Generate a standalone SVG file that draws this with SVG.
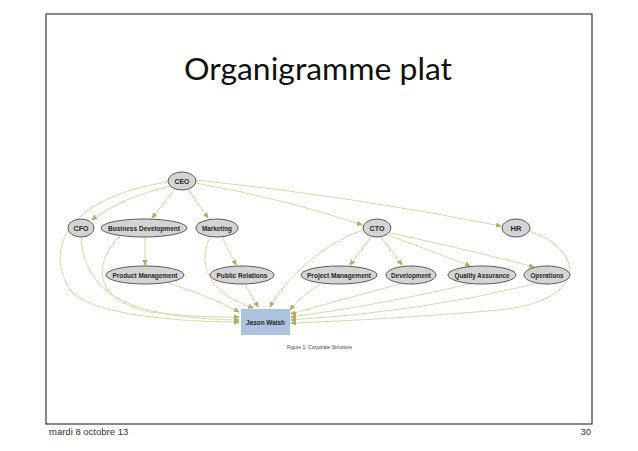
<svg xmlns="http://www.w3.org/2000/svg" width="638" height="451" viewBox="0 0 638 451">
<defs>
<marker id="ah" markerWidth="6" markerHeight="5" refX="5" refY="2.5" orient="auto" markerUnits="userSpaceOnUse">
<path d="M0,0 L6,2.5 L0,5 Z" fill="#b3ab68"/>
</marker>
<style>
.e{fill:none;stroke:#d6d2a6;stroke-width:0.9;marker-end:url(#ah)}
.n{fill:#d4d4d4;stroke:#4a4a4a;stroke-width:0.9}
.t{font-family:"Liberation Sans",Arial,sans-serif;font-size:7.5px;font-weight:bold;fill:#262626;text-anchor:middle}
</style>
</defs>
<rect width="638" height="451" fill="#ffffff"/>
<rect x="46" y="14" width="546" height="410" fill="none" stroke="#3a3a3a" stroke-width="1.2"/>
<text x="318" y="80" font-family="Lato,'Open Sans',sans-serif" font-size="30" text-anchor="middle" fill="#111" textLength="268" lengthAdjust="spacingAndGlyphs">Organigramme plat</text>
<g id="connectors">
<path class="e" d="M170,186 Q120,198 92,220"/>
<path class="e" d="M175,189 L152,218"/>
<path class="e" d="M188,189 L208,218"/>
<path class="e" d="M196,183 Q290,200 362,225"/>
<path class="e" d="M196,180 Q350,196 501,226"/>
<path class="e" d="M371,237 L350,265"/>
<path class="e" d="M381,237 L402,265"/>
<path class="e" d="M388,235 Q430,250 470,266"/>
<path class="e" d="M390,233 Q470,250 534,267"/>
<path class="e" d="M145,237 L145,265"/>
<path class="e" d="M222,237 L236,265"/>
<path class="e" d="M168,182 C80,195 40,240 70,290 C90,315 180,322 239,322"/>
<path class="e" d="M81,237 C85,290 120,318 239,320"/>
<path class="e" d="M120,236 C95,260 90,300 150,312 Q200,318 239,317"/>
<path class="e" d="M168,283 Q210,296 239,312"/>
<path class="e" d="M210,237 C195,270 215,295 253,308"/>
<path class="e" d="M245,284 L258,307"/>
<path class="e" d="M363,230 C320,245 285,280 270,307"/>
<path class="e" d="M320,284 Q300,297 290,310"/>
<path class="e" d="M400,284 Q340,300 291,314"/>
<path class="e" d="M470,284 Q380,305 291,317"/>
<path class="e" d="M535,284 Q420,312 291,320"/>
<path class="e" d="M529,231 C585,250 590,300 500,310 Q380,320 291,323"/>
</g>
<g id="ceo"><ellipse class="n" cx="182" cy="181" rx="14" ry="9"/><text class="t" x="182" y="183.7" textLength="15" lengthAdjust="spacingAndGlyphs">CEO</text></g>
<g id="cfo"><ellipse class="n" cx="81" cy="228" rx="13" ry="9"/><text class="t" x="81" y="230.7" textLength="15" lengthAdjust="spacingAndGlyphs">CFO</text></g>
<g id="bizdev"><ellipse class="n" cx="144" cy="228" rx="43" ry="9"/><text class="t" x="144" y="230.7" textLength="72" lengthAdjust="spacingAndGlyphs">Business Development</text></g>
<g id="marketing"><ellipse class="n" cx="217" cy="228" rx="21" ry="9"/><text class="t" x="217" y="230.7" textLength="30" lengthAdjust="spacingAndGlyphs">Marketing</text></g>
<g id="cto"><ellipse class="n" cx="377" cy="228" rx="14" ry="9"/><text class="t" x="377" y="230.7" textLength="15" lengthAdjust="spacingAndGlyphs">CTO</text></g>
<g id="hr"><ellipse class="n" cx="516" cy="228" rx="14" ry="9"/><text class="t" x="516" y="230.7" textLength="11" lengthAdjust="spacingAndGlyphs">HR</text></g>
<g id="prodmgmt"><ellipse class="n" cx="145" cy="275" rx="39" ry="9"/><text class="t" x="145" y="277.7" textLength="65" lengthAdjust="spacingAndGlyphs">Product Management</text></g>
<g id="pubrel"><ellipse class="n" cx="242" cy="275" rx="32" ry="9"/><text class="t" x="242" y="277.7" textLength="51" lengthAdjust="spacingAndGlyphs">Public Relations</text></g>
<g id="projmgmt"><ellipse class="n" cx="339" cy="275" rx="38" ry="9"/><text class="t" x="339" y="277.7" textLength="64" lengthAdjust="spacingAndGlyphs">Project Management</text></g>
<g id="dev"><ellipse class="n" cx="411" cy="275" rx="25" ry="9"/><text class="t" x="411" y="277.7" textLength="40" lengthAdjust="spacingAndGlyphs">Development</text></g>
<g id="qa"><ellipse class="n" cx="482" cy="275" rx="34" ry="9"/><text class="t" x="482" y="277.7" textLength="55" lengthAdjust="spacingAndGlyphs">Quality Assurance</text></g>
<g id="ops"><ellipse class="n" cx="547" cy="275" rx="23" ry="9"/><text class="t" x="547" y="277.7" textLength="33" lengthAdjust="spacingAndGlyphs">Operations</text></g>
<g id="jason"><rect x="241" y="309" width="49" height="26" fill="#adc2de"/><text class="t" x="265.5" y="325" font-size="8.5" textLength="39" lengthAdjust="spacingAndGlyphs">Jason Walsh</text></g>
<text x="287" y="349" font-family="'Liberation Sans',Arial,sans-serif" font-size="5.5" fill="#444" textLength="65" lengthAdjust="spacingAndGlyphs">Figure 1:  Corporate Structure</text>
<text x="49" y="435" font-family="'Liberation Sans',Arial,sans-serif" font-size="9.5" fill="#333">mardi 8 octobre 13</text>
<text x="591" y="435" font-family="'Liberation Sans',Arial,sans-serif" font-size="9.5" fill="#333" text-anchor="end">30</text>
</svg>
